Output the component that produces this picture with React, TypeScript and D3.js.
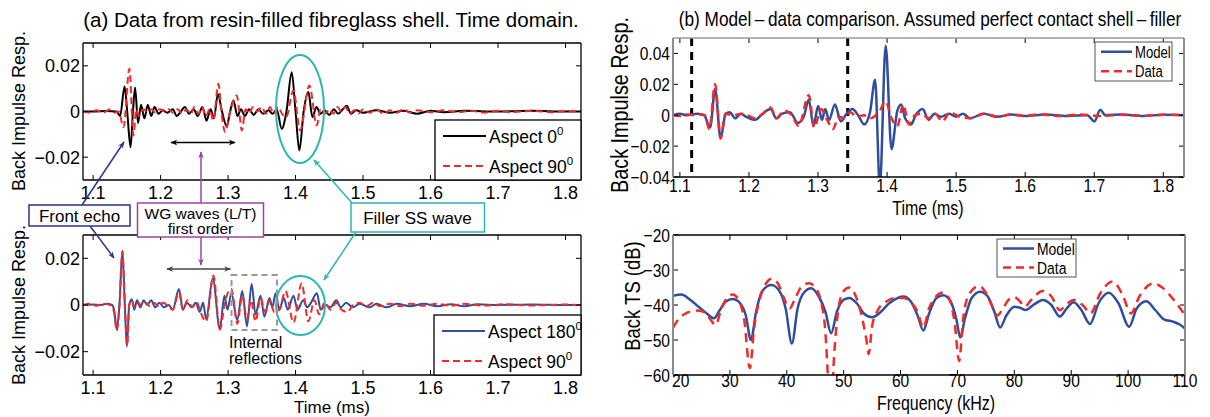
import React from 'react';
import * as d3 from 'd3';

type Pt = [number, number];

// ---------- data ----------
// (a) upper: resin-filled fibreglass shell, time domain
const aspect0Top: Pt[] = [
  [1.085, 0], [1.1, 0], [1.12, 0.0002], [1.135, 0], [1.14, -0.002], [1.1466, 0.011], [1.1505, 0], [1.1555, -0.0157],
  [1.159, 0], [1.1622, 0.0105], [1.1665, -0.005], [1.171, 0.003], [1.176, -0.003], [1.181, 0.003], [1.186, -0.002],
  [1.191, 0.002], [1.197, -0.001], [1.203, 0.0005], [1.21, -0.0005], [1.218, 0.001], [1.224, -0.002], [1.23, 0],
  [1.236, 0.002], [1.242, -0.001], [1.249, 0.001], [1.255, -0.002], [1.262, 0.002], [1.268, -0.004], [1.274, 0.001],
  [1.279, -0.003], [1.2849, 0.0077], [1.291, 0], [1.298, -0.0065], [1.303, 0], [1.3079, 0.0048], [1.314, -0.002],
  [1.319, 0.001], [1.325, -0.002], [1.331, 0.001], [1.338, -0.0015], [1.345, 0.001], [1.352, -0.001], [1.36, 0.0005],
  [1.366, -0.001], [1.372, 0.001], [1.3795, -0.0076], [1.3865, 0], [1.3943, 0.0172], [1.4, 0], [1.4056, -0.0171],
  [1.412, 0], [1.419, 0.0085], [1.425, -0.0025], [1.431, 0.002], [1.437, -0.001], [1.443, 0.0005], [1.45, -0.0015],
  [1.457, 0.001], [1.463, -0.001], [1.47, 0.001], [1.476, 0.0025], [1.482, -0.001], [1.49, 0.0005], [1.5, -0.0005],
  [1.52, 0.0005], [1.54, -0.0005], [1.56, 0.0003], [1.58, -0.001], [1.6, 0.0003], [1.62, -0.0003], [1.65, 0.0003],
  [1.7, 0], [1.75, 0.0003], [1.8, 0], [1.823, 0],
];
const aspect90Top: Pt[] = [
  [1.085, 0], [1.095, -0.0005], [1.105, 0.0005], [1.115, -0.0005], [1.125, 0.001], [1.132, -0.0005], [1.138, 0],
  [1.145, -0.0069], [1.1538, 0.0187], [1.1597, -0.0105], [1.164, 0.001], [1.168, -0.002], [1.174, 0.001], [1.18, 0],
  [1.186, 0.001], [1.192, -0.0005], [1.199, 0.001], [1.206, 0], [1.212, 0.001], [1.218, -0.0005], [1.225, 0.001],
  [1.232, -0.001], [1.238, 0.001], [1.245, -0.001], [1.25, 0.002], [1.256, -0.001], [1.261, 0.002], [1.267, -0.002],
  [1.273, 0.001], [1.278, -0.004], [1.2857, 0.0121], [1.29, 0], [1.2956, -0.009], [1.303, 0], [1.3129, 0.007],
  [1.3165, 0], [1.3203, -0.0083], [1.326, 0.001], [1.331, -0.001], [1.337, 0.002], [1.343, 0], [1.35, 0.002],
  [1.356, -0.001], [1.362, 0.002], [1.368, -0.001], [1.374, 0.002], [1.38, -0.001], [1.386, -0.0025], [1.3968, 0.0092],
  [1.4067, -0.0083], [1.4205, 0.0114], [1.4314, -0.0061], [1.437, 0.001], [1.444, -0.001], [1.45, 0.001], [1.456, -0.001],
  [1.462, 0.002], [1.468, 0], [1.474, 0.002], [1.48, -0.001], [1.487, 0.0005], [1.493, -0.001], [1.5, 0.001],
  [1.51, -0.0005], [1.52, 0.001], [1.53, -0.001], [1.54, 0.0005], [1.55, -0.0005], [1.56, 0.001], [1.57, -0.0005],
  [1.58, 0.0005], [1.6, -0.0003], [1.62, 0.0005], [1.64, -0.0003], [1.66, 0.0003], [1.68, -0.0005], [1.7, 0.0003],
  [1.72, -0.0003], [1.75, 0.0003], [1.78, -0.0003], [1.8, 0.0002], [1.823, 0],
];
// (a) lower
const aspect180Bot: Pt[] = [
  [1.085, 0], [1.1, 0.0002], [1.11, 0], [1.12, 0.0005], [1.128, 0], [1.131, -0.002], [1.1351, -0.0105], [1.139, 0],
  [1.1434, 0.0232], [1.147, 0], [1.15, -0.0178], [1.1535, 0], [1.1573, 0.0025], [1.161, -0.002], [1.165, 0.002],
  [1.17, -0.001], [1.175, 0.002], [1.18, 0], [1.186, 0.002], [1.192, -0.001], [1.198, 0.001], [1.205, -0.001],
  [1.212, 0], [1.218, -0.002], [1.2272, 0.0069], [1.233, -0.002], [1.239, 0.001], [1.246, -0.001], [1.252, 0.001],
  [1.258, -0.003], [1.263, 0.001], [1.2675, -0.006], [1.2773, 0.0115], [1.2877, -0.0102], [1.2946, 0.004],
  [1.2991, -0.002], [1.3049, 0.005], [1.3136, -0.0065], [1.321, 0.006], [1.328, -0.0092], [1.3349, 0.009],
  [1.3406, -0.004], [1.3481, 0.004], [1.3538, -0.005], [1.3613, 0.003], [1.3655, -0.001], [1.3705, 0.005],
  [1.376, -0.002], [1.3826, 0.003], [1.3884, -0.002], [1.397, 0.004], [1.4028, -0.002], [1.4114, 0.002],
  [1.4172, -0.001], [1.4229, 0.001], [1.4316, 0.005], [1.4373, -0.002], [1.445, 0], [1.4517, -0.001], [1.4604, 0.002],
  [1.467, -0.001], [1.475, 0.001], [1.485, -0.001], [1.495, 0.0005], [1.51, -0.001], [1.52, 0.0005], [1.535, -0.001],
  [1.55, 0.0005], [1.57, -0.0005], [1.59, 0.0005], [1.61, -0.0005], [1.63, 0.0003], [1.65, -0.0005], [1.67, 0.0003],
  [1.7, 0], [1.75, 0.0002], [1.8, 0], [1.823, 0],
];
const aspect90Bot: Pt[] = [
  [1.085, 0], [1.095, 0.0005], [1.105, -0.0003], [1.115, 0.0005], [1.125, 0], [1.131, -0.003], [1.1351, -0.011],
  [1.139, 0], [1.1434, 0.023], [1.147, 0], [1.1505, -0.0172], [1.1535, 0], [1.157, 0.002], [1.162, -0.001],
  [1.167, 0.001], [1.172, -0.0005], [1.178, 0.001], [1.184, -0.0005], [1.19, 0.001], [1.197, -0.0005], [1.204, 0.001],
  [1.211, -0.0005], [1.218, -0.002], [1.2272, 0.0055], [1.233, -0.002], [1.24, 0.002], [1.247, -0.001], [1.254, 0.001],
  [1.259, -0.003], [1.2675, -0.007], [1.2783, 0.0126], [1.2877, -0.0105], [1.296, 0.002], [1.3049, 0.007],
  [1.3136, -0.008], [1.321, 0.004], [1.328, -0.006], [1.334, 0.002], [1.3406, -0.007], [1.3481, 0.003],
  [1.355, -0.003], [1.362, 0.002], [1.3682, -0.003], [1.376, -0.002], [1.385, 0.006], [1.397, -0.0075],
  [1.409, 0.0093], [1.419, -0.007], [1.428, 0.002], [1.435, -0.004], [1.443, 0.001], [1.452, -0.002], [1.46, 0.001],
  [1.468, -0.002], [1.477, -0.003], [1.485, 0], [1.495, 0.001], [1.505, -0.0005], [1.515, 0.001], [1.525, -0.0005],
  [1.54, 0.0005], [1.555, -0.0005], [1.57, 0.0005], [1.59, -0.0003], [1.61, 0.0005], [1.63, -0.0003], [1.65, 0.0005],
  [1.68, -0.0003], [1.71, 0.0003], [1.75, -0.0002], [1.8, 0.0002], [1.823, 0],
];
// (b) upper: model vs data, time domain
const modelTime: Pt[] = [
  [1.09, 0], [1.1, 0.001], [1.11, 0], [1.125, 0.001], [1.135, 0], [1.1437, -0.008], [1.151, 0.017], [1.1589, -0.015],
  [1.1663, 0.001], [1.172, 0.002], [1.1804, -0.002], [1.188, 0.001], [1.196, -0.001], [1.2087, -0.003], [1.22, 0.001],
  [1.2313, 0.004], [1.2397, -0.002], [1.248, 0.001], [1.2595, 0.002], [1.2708, -0.005], [1.2793, -0.001],
  [1.2866, 0.01], [1.2934, -0.007], [1.3002, 0.006], [1.3058, -0.003], [1.3104, 0.004], [1.316, -0.003],
  [1.3245, 0.007], [1.333, -0.004], [1.3414, 0.001], [1.3499, 0.004], [1.358, 0], [1.3669, -0.006], [1.3753, 0.002],
  [1.3827, 0.023], [1.3895, -0.046], [1.398, 0.045], [1.4064, -0.022], [1.4149, 0.003], [1.4205, 0.007],
  [1.4262, -0.002], [1.4347, -0.006], [1.4414, 0], [1.4516, 0.004], [1.46, -0.003], [1.4686, 0.001], [1.478, -0.001],
  [1.49, 0.001], [1.5, -0.001], [1.51, 0.001], [1.52, -0.002], [1.54, 0.001], [1.56, -0.001], [1.58, 0.0005],
  [1.6, -0.0005], [1.63, 0.0005], [1.66, -0.0005], [1.69, 0], [1.7002, -0.004], [1.7087, 0.0035], [1.716, 0],
  [1.74, 0.0005], [1.77, -0.0005], [1.8, 0.0003], [1.83, 0],
];
const dataTime: Pt[] = [
  [1.09, 0], [1.1, -0.0005], [1.11, 0.0005], [1.12, 0], [1.13, 0.0005], [1.136, 0], [1.1425, -0.009], [1.151, 0.02],
  [1.1589, -0.015], [1.166, 0.001], [1.175, 0], [1.1917, 0.001], [1.2087, -0.002], [1.22, 0.001], [1.2313, 0.005],
  [1.2397, -0.002], [1.251, 0.003], [1.262, 0], [1.272, -0.007], [1.2866, 0.013], [1.2945, -0.008], [1.3047, 0.004],
  [1.3132, -0.003], [1.3217, -0.009], [1.33, -0.001], [1.3386, -0.002], [1.3471, 0.002], [1.3556, -0.001],
  [1.3669, 0], [1.3753, -0.002], [1.3894, 0.003], [1.398, 0.009], [1.4064, -0.002], [1.4149, -0.007],
  [1.4233, 0.007], [1.4318, -0.006], [1.4403, 0], [1.45, 0.001], [1.46, -0.002], [1.4697, 0.001], [1.4799, -0.004],
  [1.4912, 0.002], [1.5, 0], [1.52, -0.002], [1.54, 0.001], [1.56, -0.001], [1.58, 0.0005], [1.6, -0.0005],
  [1.62, 0.0005], [1.65, -0.0005], [1.68, 0.0005], [1.71, -0.0005], [1.74, 0.0003], [1.77, -0.0003], [1.8, 0.0003],
  [1.83, 0],
];
// (b) lower: back target strength vs frequency
const modelTS: Pt[] = [
  [20, -37.4], [21.5, -37], [23, -38.5], [24.5, -40.5], [26, -42.5], [27.2, -43.8], [28.2, -41.5], [29.3, -39],
  [30.5, -38.3], [31.8, -39.5], [32.8, -43], [33.7, -50], [34.6, -42], [35.7, -36], [37.3, -34.3], [38.7, -36],
  [39.8, -41], [40.9, -51], [41.9, -41], [43, -36.5], [44.3, -35.2], [45.6, -37.5], [46.8, -42], [47.8, -48.1],
  [48.8, -42], [50, -38.5], [51, -38], [52.3, -39.5], [53.6, -42.5], [55, -43.5], [56.5, -42], [58, -39.5],
  [59.5, -38], [60.5, -37.6], [61.8, -39], [63, -43], [64, -47.3], [65, -42.5], [66.3, -38], [67.5, -37.2],
  [68.8, -39], [69.8, -44], [70.5, -49.3], [71.3, -44], [72.5, -38], [74, -36.2], [75.3, -37.5], [76.5, -42],
  [77.5, -46.4], [78.6, -43], [80, -40.5], [81, -40.8], [82, -41.4], [83.5, -39.8], [85, -38.6], [86.5, -40],
  [88, -43.3], [89.2, -41], [90.4, -39.2], [91.8, -41.5], [93.3, -45.4], [94.8, -39.5], [96.6, -36.5], [98.3, -39.5],
  [100.2, -46.2], [101.5, -41], [103.2, -38.9], [104.8, -41.5], [106.3, -44.1], [108, -44.8], [109, -45.5], [110, -46.7],
];
const dataTS: Pt[] = [
  [20, -46.5], [21, -44], [22.5, -42.2], [24, -41.6], [25.5, -42], [26.5, -44], [27.5, -45.7], [28.5, -41],
  [29.5, -38], [30.5, -37], [31.5, -38.5], [32.5, -44], [33.5, -58], [34.3, -46], [35.3, -38], [36.3, -34],
  [37.3, -32.5], [38.5, -34], [39.5, -38], [40.5, -41], [41.5, -38], [42.7, -34.5], [43.9, -33.8], [45, -35],
  [46, -39], [46.8, -48], [47.3, -62], [47.8, -70], [48.3, -55], [49, -42], [50, -36], [51, -35], [52, -37],
  [53, -42], [54, -50], [54.4, -54], [55, -46], [56, -41.5], [57.5, -39], [59, -38], [60.5, -38], [62, -39.5],
  [63, -42], [64, -46.5], [65, -41], [66, -38], [67.3, -36.5], [68.5, -38], [69.5, -45], [70.3, -56], [71, -44],
  [72, -37], [73.8, -34.6], [75, -36.5], [76, -40], [77, -43], [78, -41], [79, -38.5], [80, -37.8], [81, -39],
  [81.8, -40.5], [83, -38.5], [85, -36], [86.5, -37.5], [88, -41.5], [89, -40], [90.5, -38.6], [92, -40],
  [93.4, -42.4], [95, -37], [97.3, -33.3], [99, -37], [100.5, -42.4], [102, -37.5], [104.5, -33.8], [106, -35],
  [108, -38.5], [110, -42.9],
];

const timeTicks = [1.1, 1.2, 1.3, 1.4, 1.5, 1.6, 1.7, 1.8];
const respTicksA = [-0.02, 0, 0.02];
const respTicksB = [-0.04, -0.02, 0, 0.02, 0.04];
const freqTicks = [20, 30, 40, 50, 60, 70, 80, 90, 100, 110];
const tsTicks = [-60, -50, -40, -30, -20];
const contactTimes = [1.117, 1.343];

const FONT = "'Liberation Sans', Arial, sans-serif";
const NARROW = 0.82; // panel (b) uses a condensed face
const BLUE = '#2f4e9e';
const RED = '#f22a2a';
const CYAN = '#2db5b5';
const NAVY = '#2b3488';
const PURPLE = '#a0439e';

const fmtA = (v: number) => (v === 0 ? '0' : d3.format('.2f')(v));
const fmtB = (v: number) => (v === 0 ? '0' : d3.format('.2f')(v).replace('-', '\u2212'));
const fmtDb = (v: number) => String(v).replace('-', '\u2212');

// text that may be horizontally condensed and rotated
function T({ x, y, size, anchor = 'start', sx = 1, rot = 0, children }: {
  x: number; y: number; size: number; anchor?: 'start' | 'middle' | 'end'; sx?: number; rot?: number; children: React.ReactNode;
}) {
  const tr = `translate(${x},${y})${rot ? ` rotate(${rot})` : ''}${sx !== 1 ? ` scale(${sx},1)` : ''}`;
  return <text transform={tr} textAnchor={anchor} fontFamily={FONT} fontSize={size}>{children}</text>;
}

interface Series { pts: Pt[]; color: string; width: number; dash?: string }

interface FrameProps {
  id: string;
  l: number; r: number; t: number; b: number;
  xDom: [number, number]; yDom: [number, number];
  xTicks: number[]; yTicks: number[];
  xFmt: (v: number) => string; yFmt: (v: number) => string;
  series: Series[];
  size: number; sx: number;
  xLabY: number; yLabRight: number;
  side: string; top: string; bottom: string;
  firstLabelStart?: boolean;
  extra?: (x: d3.ScaleLinear<number, number>, y: d3.ScaleLinear<number, number>) => React.ReactNode;
}

function Frame(p: FrameProps) {
  const x = d3.scaleLinear().domain(p.xDom).range([p.l, p.r]);
  const y = d3.scaleLinear().domain(p.yDom).range([p.b, p.t]);
  const line = d3.line<Pt>().x(d => x(d[0])).y(d => y(d[1])).curve(d3.curveMonotoneX);
  const tk = 5;
  return (
    <g>
      <clipPath id={p.id}>
        <rect x={p.l} y={p.t} width={p.r - p.l} height={p.b - p.t} />
      </clipPath>
      <g clipPath={`url(#${p.id})`}>
        {p.extra && p.extra(x, y)}
        {p.series.map((s, i) => (
          <path key={i} d={line(s.pts) || ''} fill="none" stroke={s.color} strokeWidth={s.width}
            strokeDasharray={s.dash} strokeLinejoin="round" />
        ))}
      </g>
      {p.xTicks.map((v, i) => (
        <g key={'x' + v}>
          <line x1={x(v)} x2={x(v)} y1={p.b} y2={p.b - tk} stroke="#000" />
          <line x1={x(v)} x2={x(v)} y1={p.t} y2={p.t + tk} stroke="#000" />
          <T x={p.firstLabelStart && i === 0 ? x(v) - 1 : x(v)} y={p.xLabY} size={p.size} sx={p.sx}
            anchor={p.firstLabelStart && i === 0 ? 'start' : 'middle'}>{p.xFmt(v)}</T>
        </g>
      ))}
      {p.yTicks.map(v => (
        <g key={'y' + v}>
          <line x1={p.l} x2={p.l + tk} y1={y(v)} y2={y(v)} stroke="#000" />
          <line x1={p.r} x2={p.r - tk} y1={y(v)} y2={y(v)} stroke="#000" />
          <T x={p.yLabRight} y={y(v) + p.size * 0.36} size={p.size} sx={p.sx} anchor="end">{p.yFmt(v)}</T>
        </g>
      ))}
      <line x1={p.l} x2={p.r} y1={p.t} y2={p.t} stroke={p.top} strokeWidth={1.3} />
      <line x1={p.l} x2={p.r} y1={p.b} y2={p.b} stroke={p.bottom} strokeWidth={1.3} />
      <line x1={p.l} x2={p.l} y1={p.t} y2={p.b} stroke={p.side} strokeWidth={p.side === '#000' ? 1.3 : 2} />
      <line x1={p.r} x2={p.r} y1={p.t} y2={p.b} stroke={p.side} strokeWidth={p.side === '#000' ? 1.3 : 2} />
    </g>
  );
}

function LegendA({ x0, x1, y0, y1, rows }: { x0: number; x1: number; y0: number; y1: number; rows: { label: string; color: string; dash?: string }[] }) {
  const h = (y1 - y0) / rows.length;
  return (
    <g>
      <rect x={x0} y={y0} width={x1 - x0} height={y1 - y0} fill="#fff" stroke="#000" strokeWidth={1.3} />
      {rows.map((r, i) => {
        const cy = y0 + h * (i + 0.5) + 1;
        return (
          <g key={i}>
            <line x1={x0 + 8} x2={x0 + 51} y1={cy} y2={cy} stroke={r.color} strokeWidth={2} strokeDasharray={r.dash} />
            <text x={x0 + 54} y={cy + 6.5} fontFamily={FONT} fontSize={17.5}>
              {r.label}<tspan dy={-8} fontSize={11.5}>0</tspan>
            </text>
          </g>
        );
      })}
    </g>
  );
}

function LegendB({ x0, x1, y0, y1, size }: { x0: number; x1: number; y0: number; y1: number; size: number }) {
  const rows = [
    { label: 'Model', color: BLUE },
    { label: 'Data', color: RED, dash: '8,5' },
  ];
  const h = (y1 - y0) / 2;
  return (
    <g>
      <rect x={x0} y={y0} width={x1 - x0} height={y1 - y0} fill="#fff" stroke="#555" strokeWidth={1} />
      {rows.map((r, i) => {
        const cy = y0 + h * (i + 0.5);
        return (
          <g key={i}>
            <line x1={x0 + 6} x2={x0 + 37} y1={cy} y2={cy} stroke={r.color} strokeWidth={2.5} strokeDasharray={r.dash} />
            <T x={x0 + 40} y={cy + size * 0.36} size={size} sx={NARROW}>{r.label}</T>
          </g>
        );
      })}
    </g>
  );
}

function Marker({ id, color }: { id: string; color: string }) {
  return (
    <marker id={id} viewBox="0 0 10 10" refX={9} refY={5} markerWidth={7} markerHeight={7}
      markerUnits="userSpaceOnUse" orient="auto-start-reverse">
      <path d="M0,1 L10,5 L0,9 L3,5 Z" fill={color} />
    </marker>
  );
}

export default function App() {
  return (
    <div style={{ position: 'absolute', left: 0, top: 0 }}>
      <svg width={1210} height={417} viewBox="0 0 1210 417" style={{ display: 'block', background: '#fff' }}>
        <defs>
          <Marker id="mNavy" color={NAVY} />
          <Marker id="mPurple" color={PURPLE} />
          <Marker id="mCyan" color={CYAN} />
          <Marker id="mBlack" color="#000" />
          <Marker id="mGray" color="#444" />
        </defs>

        {/* ---------- (a) ---------- */}
        <T x={331} y={27} size={20.5} anchor="middle">(a) Data from resin-filled fibreglass shell. Time domain.</T>
        <T x={25} y={111} size={18} rot={-90} anchor="middle">Back Impulse Resp.</T>
        <T x={25} y={305} size={18} rot={-90} anchor="middle">Back Impulse Resp.</T>

        <Frame id="cA1" l={83} r={581} t={43} b={180} xDom={[1.085, 1.823]} yDom={[-0.03, 0.03]}
          xTicks={timeTicks} yTicks={respTicksA} xFmt={v => String(v)} yFmt={fmtA}
          series={[
            { pts: aspect0Top, color: '#000', width: 2 },
            { pts: aspect90Top, color: RED, width: 2, dash: '7,4' },
          ]}
          size={18} sx={1} xLabY={199} yLabRight={80} side="#000" top="#000" bottom="#000" />
        <LegendA x0={435} x1={581} y0={120} y1={180} rows={[
          { label: 'Aspect 0', color: '#000' },
          { label: 'Aspect 90', color: RED, dash: '7,4' },
        ]} />

        <Frame id="cA2" l={83} r={581} t={235} b={375} xDom={[1.085, 1.823]} yDom={[-0.03, 0.03]}
          xTicks={timeTicks} yTicks={respTicksA} xFmt={v => String(v)} yFmt={fmtA}
          series={[
            { pts: aspect180Bot, color: BLUE, width: 2 },
            { pts: aspect90Bot, color: RED, width: 2, dash: '7,4' },
          ]}
          size={18} sx={1} xLabY={393.5} yLabRight={80} side="#000" top="#000" bottom="#000" />
        <LegendA x0={434} x1={581} y0={315} y1={375} rows={[
          { label: 'Aspect 180', color: BLUE },
          { label: 'Aspect 90', color: RED, dash: '7,4' },
        ]} />
        <T x={332} y={413} size={17} anchor="middle">Time (ms)</T>

        {/* annotations */}
        <ellipse cx={300} cy={109} rx={24} ry={54} fill="none" stroke={CYAN} strokeWidth={2} />
        <ellipse cx={300.5} cy={305.5} rx={24.5} ry={29.5} fill="none" stroke={CYAN} strokeWidth={2} />
        <rect x={231.5} y={275} width={45.5} height={55} fill="none" stroke="#999" strokeWidth={2} strokeDasharray="6,4" />
        <text fontFamily={FONT} fontSize={16}>
          <tspan x={229} y={348}>Internal</tspan>
          <tspan x={229} y={364}>reflections</tspan>
        </text>

        <line x1={171} x2={235} y1={142.5} y2={142.5} stroke="#000" strokeWidth={1.3}
          markerStart="url(#mBlack)" markerEnd="url(#mBlack)" />
        <line x1={167} x2={230.5} y1={269} y2={269} stroke="#444" strokeWidth={1.5}
          markerStart="url(#mGray)" markerEnd="url(#mGray)" />

        <line x1={82} y1={205} x2={124} y2={142} stroke={NAVY} strokeWidth={1.5} markerEnd="url(#mNavy)" />
        <line x1={90} y1={226} x2={114} y2={258} stroke={NAVY} strokeWidth={1.5} markerEnd="url(#mNavy)" />
        <line x1={201} y1={203} x2={201} y2={152} stroke={PURPLE} strokeWidth={1.5} markerEnd="url(#mPurple)" />
        <line x1={201} y1={237} x2={201} y2={265} stroke={PURPLE} strokeWidth={1.5} markerEnd="url(#mPurple)" />
        <line x1={352} y1={203} x2={314} y2={160} stroke={CYAN} strokeWidth={1.5} markerEnd="url(#mCyan)" />
        <line x1={356} y1={232} x2={324} y2={280} stroke={CYAN} strokeWidth={1.5} markerEnd="url(#mCyan)" />

        <rect x={29} y={205} width={101} height={21} fill="#fff" stroke={NAVY} strokeWidth={1.5} />
        <T x={79.5} y={221.5} size={17} anchor="middle">Front echo</T>
        <rect x={137.5} y={203} width={126} height={34} fill="#fff" stroke={PURPLE} strokeWidth={1.5} />
        <T x={200.5} y={219} size={15.5} anchor="middle">WG waves (L/T)</T>
        <T x={200.5} y={234} size={15.5} anchor="middle">first order</T>
        <rect x={351} y={203} width={133.5} height={29} fill="#fff" stroke={CYAN} strokeWidth={1.5} />
        <T x={417.5} y={223.5} size={17} anchor="middle">Filler SS wave</T>

        {/* ---------- (b) ---------- */}
        <T x={930} y={26} size={21} sx={0.82} anchor="middle">
          (b) Model{'\u2009\u2013\u2009'}data comparison. Assumed perfect contact shell{'\u2009\u2013\u2009'}filler
        </T>
        <T x={628} y={105} size={23} sx={0.86} rot={-90} anchor="middle">Back Impulse Resp.</T>
        <T x={640} y={296} size={22} sx={0.84} rot={-90} anchor="middle">Back TS (dB)</T>

        <Frame id="cB1" l={673} r={1184} t={38} b={177} xDom={[1.09, 1.83]} yDom={[-0.04, 0.05]}
          xTicks={timeTicks} yTicks={respTicksB} xFmt={v => String(v)} yFmt={fmtB}
          series={[
            { pts: modelTime, color: BLUE, width: 2.5 },
            { pts: dataTime, color: RED, width: 2.5, dash: '8,5' },
          ]}
          extra={(x, y) => contactTimes.map(t => (
            <line key={t} x1={x(t)} x2={x(t)} y1={y(0.05)} y2={y(-0.04)} stroke="#000" strokeWidth={3} strokeDasharray="8,6" />
          ))}
          size={19} sx={NARROW} xLabY={191.5} yLabRight={670} side="#8c8c8c" top="#9a9a9a" bottom="#000" />
        <LegendB x0={1095} x1={1172} y0={42} y1={81} size={16} />
        <T x={928} y={214.5} size={19.5} sx={NARROW} anchor="middle">Time (ms)</T>

        <Frame id="cB2" l={673} r={1185} t={235} b={375} xDom={[20, 110]} yDom={[-60, -20]}
          xTicks={freqTicks} yTicks={tsTicks} xFmt={v => String(v)} yFmt={fmtDb} firstLabelStart
          series={[
            { pts: modelTS, color: BLUE, width: 2.5 },
            { pts: dataTS, color: RED, width: 2.5, dash: '9,6' },
          ]}
          size={19} sx={NARROW} xLabY={387} yLabRight={670} side="#8c8c8c" top="#000" bottom="#000" />
        <LegendB x0={997} x1={1076} y0={239} y1={277} size={17} />
        <T x={936} y={409.5} size={19.5} sx={NARROW} anchor="middle">Frequency (kHz)</T>
      </svg>
    </div>
  );
}
